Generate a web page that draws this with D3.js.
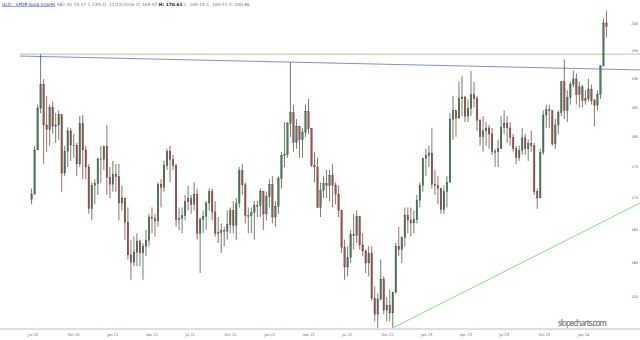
<!DOCTYPE html>
<html>
<head>
<meta charset="utf-8">
<script src="https://cdn.jsdelivr.net/npm/d3@7"></script>
<style>
  html, body { margin: 0; padding: 0; background: #fff; }
  svg { display: block; }
</style>
</head>
<body>
<svg id="chart" width="640" height="340"></svg>
<script>
// GLD weekly bars, [high, low, close], one per week ending Friday (from Jul 17 2020)
const weeks2020 = [
  [171.5, 169.0, 170.6], [178.5, 170.8, 177.8], [185.5, 178.0, 184.9], [194.4, 184.0, 189.0],
  [190.0, 175.5, 182.0], [187.0, 177.5, 181.2], [185.5, 178.5, 185.0], [186.0, 180.5, 181.8],
  [184.0, 179.0, 182.0], [184.5, 179.5, 183.8], [183.5, 171.0, 174.0], [178.5, 173.5, 177.6],
  [181.6, 175.0, 181.0], [181.5, 176.0, 178.6], [180.5, 176.5, 178.6], [179.0, 173.5, 175.5],
  [183.5, 175.0, 182.2], [183.7, 173.0, 177.8], [178.5, 173.0, 175.0], [175.5, 167.5, 168.3],
  [172.5, 166.5, 172.0], [173.0, 169.0, 172.3], [176.5, 170.5, 176.3], [178.5, 172.5, 176.2]
]
const weeks2021 = [
  [178.5, 174.5, 178.4], [182.0, 170.5, 173.3], [175.0, 170.0, 172.2], [176.0, 171.0, 173.8],
  [175.5, 171.0, 173.4], [175.5, 166.5, 169.2], [172.0, 168.0, 170.0], [169.5, 163.5, 166.2],
  [168.5, 160.5, 161.2], [163.5, 157.5, 160.1], [164.0, 159.5, 161.6], [164.5, 159.5, 163.2],
  [163.5, 159.5, 161.5], [163.0, 157.5, 162.5], [165.0, 161.0, 163.4], [167.5, 162.5, 166.9],
  [168.5, 164.5, 166.8], [167.5, 164.0, 166.4], [172.5, 165.5, 172.2], [173.0, 168.5, 171.7],
  [176.0, 171.0, 175.2], [178.0, 174.5, 177.6], [178.5, 172.5, 176.2], [177.0, 174.5, 175.2],
  [175.5, 165.5, 166.6], [168.5, 165.0, 166.8], [168.5, 164.5, 167.2], [170.5, 166.5, 169.4],
  [172.0, 168.0, 169.9], [170.5, 167.5, 169.0], [172.5, 168.0, 170.6], [171.5, 163.5, 164.5],
  [167.0, 158.5, 166.6], [168.0, 164.5, 167.1], [169.5, 165.0, 169.2], [171.5, 168.0, 171.0],
  [171.5, 166.5, 167.8], [169.5, 164.0, 164.5], [167.0, 163.0, 164.6], [166.0, 161.5, 164.9],
  [165.5, 162.5, 164.8], [168.0, 163.5, 165.8], [168.5, 164.5, 168.0], [169.5, 164.5, 165.7],
  [170.0, 163.5, 169.2], [175.0, 168.5, 174.4], [175.5, 170.5, 172.1], [172.5, 166.0, 167.2],
  [168.5, 164.5, 167.2], [168.5, 164.5, 167.7], [169.5, 163.5, 168.8], [169.5, 167.0, 168.8],
  [171.5, 167.0, 171.1]
]
const weeks2022 = [
  [170.0, 165.0, 167.5], [171.0, 166.5, 170.2], [173.0, 168.5, 172.2], [173.5, 166.0, 167.0],
  [169.5, 165.5, 168.7], [173.5, 167.5, 173.1], [177.5, 171.5, 176.9], [182.5, 175.0, 177.0],
  [182.5, 176.5, 182.2], [193.0, 180.0, 184.1], [185.5, 177.5, 179.1], [183.0, 178.0, 181.8],
  [181.5, 176.5, 179.5], [181.5, 176.5, 180.8], [185.5, 180.0, 184.3], [186.5, 180.5, 181.4],
  [181.5, 175.0, 175.3], [177.5, 172.5, 175.0], [176.5, 168.5, 168.5], [172.5, 167.0, 171.2],
  [173.5, 170.0, 172.3], [174.5, 170.0, 172.0], [174.5, 169.5, 173.6], [175.5, 168.5, 172.0],
  [172.5, 169.0, 170.6], [172.0, 167.0, 168.0], [168.0, 161.5, 162.3], [163.5, 157.5, 159.4],
  [162.5, 158.0, 160.8], [165.0, 160.0, 164.3], [167.5, 162.0, 164.1], [168.0, 163.0, 167.1],
  [167.0, 162.0, 162.7], [164.5, 161.0, 161.8], [162.0, 158.5, 160.0], [162.5, 158.0, 161.4],
  [162.5, 154.5, 154.8], [156.5, 151.5, 152.5], [155.5, 150.6, 154.7], [160.5, 154.5, 157.6],
  [158.0, 152.5, 153.1], [155.0, 151.5, 153.8], [156.0, 151.5, 152.7], [155.5, 150.6, 155.7],
  [163.0, 155.5, 162.5], [165.5, 161.0, 162.0], [164.0, 160.0, 163.8], [168.5, 162.5, 167.3],
  [168.5, 164.5, 166.5], [168.5, 164.0, 166.1], [168.0, 164.5, 166.6], [170.5, 166.0, 169.6]
]
const weeks2023 = [
  [172.5, 168.5, 172.0], [176.5, 171.0, 176.4], [178.0, 173.5, 176.9], [178.5, 175.0, 177.3],
  [181.5, 171.5, 172.2], [174.5, 170.5, 172.0], [173.5, 169.0, 171.5], [171.5, 167.5, 168.2],
  [172.0, 167.5, 171.0], [173.5, 168.5, 172.5], [184.0, 172.5, 183.0], [187.0, 179.5, 184.5],
  [184.5, 180.0, 183.2], [189.5, 183.0, 186.5], [190.5, 183.5, 186.8], [187.0, 182.5, 183.5],
  [186.5, 182.5, 184.8], [191.4, 183.5, 187.2], [189.5, 185.0, 186.5], [187.0, 181.0, 182.8],
  [183.0, 178.5, 180.0], [183.5, 177.5, 181.0], [182.5, 178.5, 181.5], [182.0, 178.0, 180.5],
  [181.5, 177.0, 177.5], [178.0, 175.0, 177.5], [179.5, 175.0, 178.0], [183.5, 178.0, 181.6],
  [184.5, 180.5, 182.3], [183.5, 179.0, 181.5], [182.5, 178.5, 179.9], [180.5, 177.5, 178.0],
  [178.5, 175.5, 176.5], [178.5, 176.0, 177.7], [181.5, 177.0, 179.8], [180.5, 177.0, 178.0],
  [179.5, 176.0, 178.9], [181.0, 177.5, 178.5], [179.0, 170.5, 171.0], [171.5, 168.3, 170.0],
  [178.0, 170.0, 177.4], [184.5, 177.0, 183.7], [185.5, 181.5, 184.6], [185.5, 181.5, 184.5],
  [183.5, 178.5, 178.8], [183.0, 178.0, 182.0], [184.5, 180.5, 184.1], [189.5, 183.5, 189.5],
  [193.5, 183.0, 184.5], [188.0, 182.5, 186.7], [189.5, 185.5, 189.0], [191.5, 188.5, 190.0]
]
const weeks2024 = [
  [191.0, 185.5, 187.2], [189.5, 185.0, 188.6], [189.0, 185.0, 186.2], [188.0, 185.5, 186.5],
  [190.0, 186.0, 188.2], [189.0, 185.5, 186.2], [186.5, 181.8, 185.4], [188.0, 184.5, 187.3],
  [192.5, 186.5, 192.3], [201.0, 193.0, 200.2], [202.5, 197.5, 199.5]
]
const firstOpen = 169.8 // later opens = previous week's close

const yTicks = [155, 160, 165, 170, 175, 180, 185, 190, 195, 200]
const xTickDates = ["2020-07-01", "2020-10-01", "2021-01-01", "2021-04-01", "2021-07-01",
  "2021-10-01", "2022-01-01", "2022-04-01", "2022-07-01", "2022-10-01", "2023-01-01",
  "2023-04-01", "2023-07-01", "2023-10-01", "2024-01-01"]
const xTickLabels = ["Jul 20", "Oct 20", "Jan 21", "Apr 21", "Jul 21", "Oct 21", "Jan 22",
  "Apr 22", "Jul 22", "Oct 22", "Jan 23", "Apr 23", "Jul 23", "Oct 23", "Jan 24"]

// drawn lines: [date, price] end points
const resistanceLine = [["2020-06-18", 194.45], ["2024-05-30", 194.45]]
const trendLine = [["2020-06-18", 194.1], ["2024-05-30", 191.6]]
const supportLine = [["2022-11-03", 150.6], ["2024-05-30", 169.2]]

const headerTitle = "GLD - SPDR Gold Shares"
const headerStats = "482.35 14.17 1.13% D: 11/15/2016 O: 169.97 "
const headerHigh = "H: 170.61"
const headerRest = " L: 169.14 C: 169.51 V: 200.86"

const parse = d3.timeParse("%Y-%m-%d")
const svg = d3.select("#chart")

const x = d3.scaleTime()
  .domain([parse("2020-06-18"), parse("2024-05-30")])
  .range([20, 640])
const y = d3.scaleLog()
  .domain([150, 200])
  .range([332, 24])

// build bars
const rows = [].concat(weeks2020, weeks2021, weeks2022, weeks2023, weeks2024)
const fridays = d3.timeFriday.range(new Date(2020, 6, 17), new Date(2024, 2, 16))
const bars = rows.slice(0, fridays.length).map((r, i) => ({
  date: d3.timeDay.offset(fridays[i], -2),
  open: i === 0 ? firstOpen : rows[i - 1][2],
  high: r[0],
  low: r[1],
  close: r[2],
}))

// reference lines
function drawLine(pts, color, width) {
  svg.append("line")
    .attr("x1", x(parse(pts[0][0]))).attr("y1", y(pts[0][1]))
    .attr("x2", x(parse(pts[1][0]))).attr("y2", y(pts[1][1]))
    .attr("stroke", color)
    .attr("stroke-width", width)
}
drawLine(resistanceLine, "#a9bf9c", 0.9)
drawLine(trendLine, "#7c7fd6", 0.9)
drawLine(supportLine, "#86d486", 0.9)

// candles
const upColor = "#2c4a32"
const downColor = "#6e3030"
const g = svg.append("g")
g.selectAll("line.wick")
  .data(bars)
  .join("line")
  .attr("class", "wick")
  .attr("x1", d => x(d.date)).attr("x2", d => x(d.date))
  .attr("y1", d => y(d.high)).attr("y2", d => y(d.low))
  .attr("stroke", d => d.close >= d.open ? upColor : downColor)
  .attr("stroke-width", 0.7)
g.selectAll("rect.body")
  .data(bars)
  .join("rect")
  .attr("class", "body")
  .attr("x", d => x(d.date) - 0.75)
  .attr("width", 1.5)
  .attr("y", d => y(Math.max(d.open, d.close)))
  .attr("height", d => Math.max(0.6, Math.abs(y(d.open) - y(d.close))))
  .attr("fill", d => d.close >= d.open ? "#557a5c" : "#9a5656")
  .attr("stroke", d => d.close >= d.open ? upColor : downColor)
  .attr("stroke-width", 0.35)

// bottom axis line and labels
svg.append("line")
  .attr("x1", 0).attr("x2", 640)
  .attr("y1", 329).attr("y2", 329)
  .attr("stroke", "#bdbdbd")
  .attr("stroke-width", 1)

svg.selectAll("text.xlab")
  .data(xTickDates)
  .join("text")
  .attr("class", "xlab")
  .attr("x", d => x(parse(d)) + 2.5)
  .attr("y", 335.5)
  .attr("font-family", "DejaVu Sans, sans-serif")
  .attr("font-size", 3.6)
  .attr("fill", "#5c5c9c")
  .text((d, i) => xTickLabels[i])

// right price labels
svg.selectAll("text.ylab")
  .data(yTicks)
  .join("text")
  .attr("class", "ylab")
  .attr("x", 638)
  .attr("y", d => y(d) + 1.3)
  .attr("text-anchor", "end")
  .attr("font-family", "DejaVu Sans, sans-serif")
  .attr("font-size", 3.6)
  .attr("fill", "#666")
  .text(d => d.toFixed(0))

// header
const header = svg.append("text")
  .attr("x", 2)
  .attr("y", 5.5)
  .attr("font-family", "DejaVu Sans, sans-serif")
  .attr("font-size", 4.4)
header.append("tspan")
  .attr("fill", "#2a3fb0")
  .attr("text-decoration", "underline")
  .text(headerTitle)
header.append("tspan").attr("fill", "#777").text(" " + headerStats)
header.append("tspan").attr("fill", "#222").attr("font-weight", "bold").text(headerHigh)
header.append("tspan").attr("fill", "#777").text(headerRest)

// watermark
svg.append("text")
  .attr("x", 558)
  .attr("y", 326)
  .attr("font-family", "Open Sans, sans-serif")
  .attr("font-size", 8)
  .attr("font-weight", 600)
  .attr("fill", "#808080")
  .attr("textLength", 49)
  .text("slopecharts.com")
</script>
</body>
</html>
